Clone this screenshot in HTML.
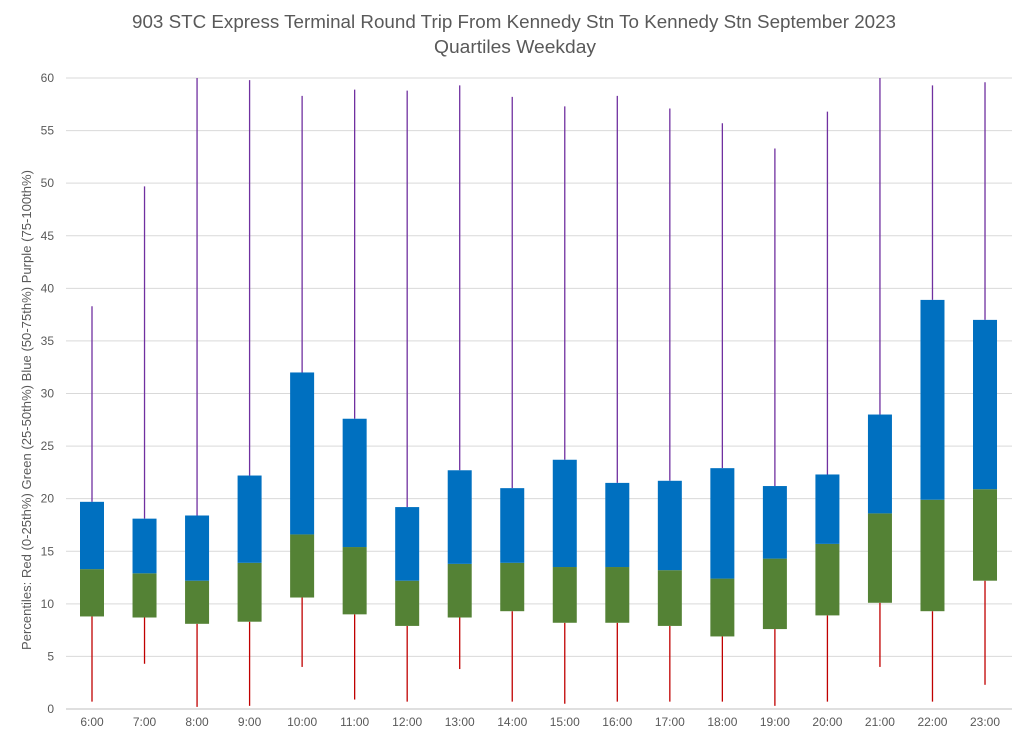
<!DOCTYPE html>
<html><head><meta charset="utf-8"><style>
body{margin:0;background:#fff;}
svg{display:block;font-family:"Liberation Sans",sans-serif;}
</style></head><body>
<svg id="chart" width="1024" height="743">
<text x="514" y="28" text-anchor="middle" font-size="18" fill="#595959" textLength="764" lengthAdjust="spacingAndGlyphs">903 STC Express Terminal Round Trip From Kennedy Stn To Kennedy Stn September 2023</text>
<text x="515" y="53" text-anchor="middle" font-size="18" fill="#595959" textLength="162" lengthAdjust="spacingAndGlyphs">Quartiles Weekday</text>
<text transform="translate(31,410) rotate(-90)" text-anchor="middle" font-size="12.5" fill="#595959" textLength="480" lengthAdjust="spacingAndGlyphs">Percentiles:  Red (0-25th%)  Green (25-50th%)  Blue (50-75th%)  Purple (75-100th%)</text>
<g id="grid"></g><g id="marks"></g>
</svg>
<script>
const categories=["6:00","7:00","8:00","9:00","10:00","11:00","12:00","13:00","14:00","15:00","16:00","17:00","18:00","19:00","20:00","21:00","22:00","23:00"];
const minVals=[0.7,4.3,0.2,0.3,4.0,0.9,0.7,3.8,0.7,0.5,0.7,0.7,0.7,0.3,0.7,4.0,0.7,2.3];
const q1Vals=[8.8,8.7,8.1,8.3,10.6,9.0,7.9,8.7,9.3,8.2,8.2,7.9,6.9,7.6,8.9,10.1,9.3,12.2];
const medVals=[13.3,12.9,12.2,13.9,16.6,15.4,12.2,13.8,13.9,13.5,13.5,13.2,12.4,14.3,15.7,18.6,19.9,20.9];
const q3Vals=[19.7,18.1,18.4,22.2,32.0,27.6,19.2,22.7,21.0,23.7,21.5,21.7,22.9,21.2,22.3,28.0,38.9,37.0];
const maxVals=[38.3,49.7,60,59.8,58.3,58.9,58.8,59.3,58.2,57.3,58.3,57.1,55.7,53.3,56.8,60,59.3,59.6];
const yTicks=[0,5,10,15,20,25,30,35,40,45,50,55,60];
const NS="http://www.w3.org/2000/svg";
const y=v=>709-v*(631/60);
const x=i=>92+i*52.53;
const grid=document.getElementById('grid'),marks=document.getElementById('marks');
function mk(tag,at,parent){const e=document.createElementNS(NS,tag);for(const k in at)e.setAttribute(k,at[k]);parent.appendChild(e);return e;}
yTicks.forEach(t=>{
 const l=mk('line',{x1:66,x2:1012,y1:y(t),y2:y(t),stroke:t===0?'#bfbfbf':'#d9d9d9','stroke-width':1},grid);
 
 
 const tx=mk('text',{x:54,y:y(t)+4,'text-anchor':'end','font-size':12,fill:'#595959'},grid);
 tx.textContent=t;
 
 
});
categories.forEach((c,i)=>{
 const cx=x(i),w=24;
 const lo=mk('line',{x1:cx,x2:cx,y1:y(minVals[i]),y2:y(q1Vals[i]),stroke:'#C00000','stroke-width':1.3},marks);
 
 
 const hi=mk('line',{x1:cx,x2:cx,y1:y(maxVals[i]),y2:y(q3Vals[i]),stroke:'#7030A0','stroke-width':1.3},marks);
 
 
 const g=mk('rect',{x:cx-w/2,y:y(medVals[i]),width:w,height:y(q1Vals[i])-y(medVals[i]),fill:'#548235'},marks);
 
 
 const b=mk('rect',{x:cx-w/2,y:y(q3Vals[i]),width:w,height:y(medVals[i])-y(q3Vals[i]),fill:'#0070C0'},marks);
 
 
 const tx=mk('text',{x:cx,y:726,'text-anchor':'middle','font-size':12,fill:'#595959'},marks);
 tx.textContent=c;
 
 
});
</script>
</body></html>
